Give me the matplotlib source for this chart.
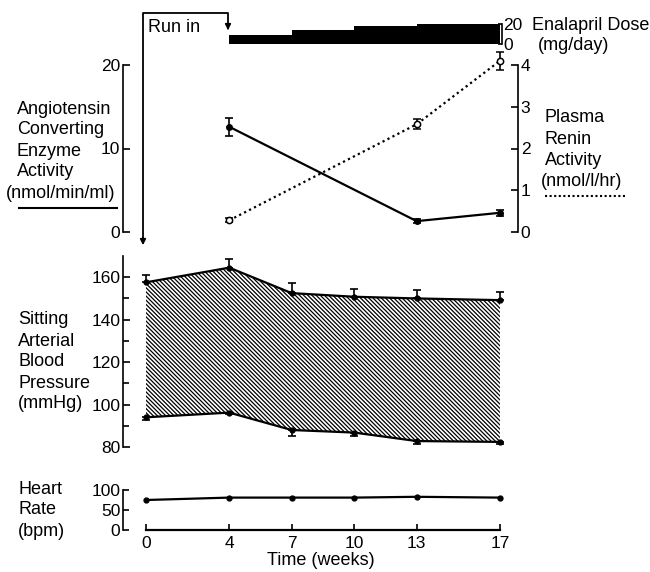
import matplotlib
matplotlib.use('Agg')
import matplotlib.pyplot as plt
from matplotlib.lines import Line2D

plt.rcParams['font.family'] = ['Liberation Sans', 'DejaVu Sans']
plt.rcParams['hatch.linewidth'] = 0.9

# data (weeks)
weeks = [0, 4, 7, 10, 13, 17]
week_ticks = [0, 4, 7, 10, 13, 17]

dose_edges = [4, 7, 10, 13, 17]
dose_mg = [9, 14.5, 18.5, 20]

ace_weeks = [4, 13, 17]
ace = [12.6, 1.3, 2.3]
ace_err = [1.1, 0.2, 0.35]

renin_weeks = [4, 13, 17]
renin = [0.28, 2.58, 4.1]
renin_err = [0.05, 0.12, 0.22]

systolic = [157.6, 164.5, 152.5, 150.8, 150.0, 149.2]
systolic_err = [3.3, 4.3, 4.6, 3.8, 4.2, 4.0]
diastolic = [94.0, 96.2, 88.0, 86.8, 82.8, 82.4]
diastolic_err = [1.5, 0.8, 2.6, 1.5, 1.4, 1.0]

heart_rate = [75, 81, 81, 81, 83, 81]

W, H = 650, 572
XPX0, XPX_WEEK = 146, 20.82


def rect(left, top, right, bottom):
    return [left / W, 1 - bottom / H, (right - left) / W, (bottom - top) / H]


def fx(px):
    return px / W


def fy(py):
    return 1 - py / H


XLIM = ((123 - XPX0) / XPX_WEEK, (518 - XPX0) / XPX_WEEK)
FS = 13
TFS = 12.5
LW = 1.6

fig = plt.figure(figsize=(6.5, 5.72), dpi=100)


def style(ax):
    ax.set_xlim(*XLIM)
    for s in ax.spines.values():
        s.set_visible(False)
    ax.tick_params(direction='in', length=5, width=1.2, labelsize=TFS, pad=2)
    ax.set_xticks([])
    ax.patch.set_alpha(0)


# dose bar
ax_dose = fig.add_axes(rect(123, 24, 518, 44))
style(ax_dose)
ax_dose.set_ylim(0, 20)
ax_dose.fill_between(dose_edges, dose_mg + [dose_mg[-1]], step='post', color='black', lw=0)
ax_dose.spines['right'].set_visible(True)
ax_dose.spines['right'].set_position(('data', 17.1))
ax_dose.spines['right'].set_linewidth(1.2)
ax_dose.yaxis.tick_right()
ax_dose.set_yticks([0, 20])
ax_dose.set_yticklabels(['0', '20'])
ax_dose.tick_params(axis='y', length=3, pad=1)

# ACE and renin
ax_ace = fig.add_axes(rect(123, 65, 518, 232))
style(ax_ace)
ax_ace.set_ylim(0, 20)
ax_ace.spines['left'].set_visible(True)
ax_ace.spines['left'].set_linewidth(1.2)
ax_ace.set_yticks([0, 10, 20])
ax_ace.errorbar(ace_weeks, ace, yerr=ace_err, color='black', lw=LW, marker='o', ms=4,
                capsize=3, elinewidth=1.2, capthick=1.2, clip_on=False)

ax_ren = ax_ace.twinx()
style(ax_ren)
ax_ren.set_ylim(0, 4)
ax_ren.spines['right'].set_visible(True)
ax_ren.spines['right'].set_linewidth(1.2)
ax_ren.set_yticks([0, 1, 2, 3, 4])
ax_ren.errorbar(renin_weeks, renin, yerr=renin_err, color='black', lw=LW, ls=(0, (1, 1.5)),
                marker='o', ms=4.5, mfc='white', mew=1.1, capsize=3, elinewidth=1.2,
                capthick=1.2, clip_on=False)

# blood pressure
ax_bp = fig.add_axes(rect(123, 256, 518, 447))
style(ax_bp)
ax_bp.set_ylim(80, 170)
ax_bp.spines['left'].set_visible(True)
ax_bp.spines['left'].set_linewidth(1.2)
ax_bp.set_yticks([80, 100, 120, 140, 160])
ax_bp.set_yticks([90, 110, 130, 150], minor=True)
ax_bp.tick_params(which='minor', direction='in', length=4, width=1.2)
ax_bp.fill_between(weeks, diastolic, systolic, facecolor='white', edgecolor='black',
                   hatch='\\' * 8, lw=0)
ax_bp.errorbar(weeks, systolic, yerr=[[0] * len(weeks), systolic_err], color='black', lw=LW,
               marker='o', ms=3.5, capsize=3, elinewidth=1.2, capthick=1.2)
ax_bp.errorbar(weeks, diastolic, yerr=[diastolic_err, [0] * len(weeks)], color='black', lw=LW,
               marker='o', ms=3.5, capsize=3, elinewidth=1.2, capthick=1.2)

# heart rate
ax_hr = fig.add_axes(rect(123, 490, 518, 530))
style(ax_hr)
ax_hr.set_ylim(0, 100)
ax_hr.spines['left'].set_visible(True)
ax_hr.spines['left'].set_linewidth(1.2)
ax_hr.spines['bottom'].set_visible(True)
ax_hr.spines['bottom'].set_linewidth(1.6)
ax_hr.spines['bottom'].set_bounds(0, 17)
ax_hr.set_yticks([0, 50, 100])
ax_hr.set_xticks(week_ticks)
ax_hr.tick_params(axis='x', direction='in', length=4, width=1.2, pad=4)
ax_hr.tick_params(axis='y', length=4)
ax_hr.plot(weeks, heart_rate, color='black', lw=LW, marker='o', ms=3.5)
ax_hr.set_xlabel('Time (weeks)', fontsize=FS, labelpad=1)

# text labels


def label(lines, x, y0, step=21, **kw):
    for i, t in enumerate(lines):
        fig.text(fx(x), fy(y0 + i * step), t, fontsize=FS, va='center', ha='left', **kw)


label(['Angiotensin', 'Converting', 'Enzyme', 'Activity'], 17, 109)
label(['(nmol/min/ml)'], 6, 193)
fig.add_artist(Line2D([fx(19), fx(117)], [fy(208), fy(208)], color='black', lw=1.5))

label(['Plasma', 'Renin', 'Activity'], 545, 118)
label(['(nmol/l/hr)'], 541, 181)
fig.add_artist(Line2D([fx(545), fx(627)], [fy(196), fy(196)], color='black', lw=1.5,
                      ls=(0, (1, 1.2))))

label(['Enalapril Dose'], 532, 25)
label(['(mg/day)'], 538, 46)

label(['Sitting', 'Arterial', 'Blood', 'Pressure', '(mmHg)'], 18, 320)
label(['Heart', 'Rate', '(bpm)'], 18, 489)

label(['Run in'], 148, 27)

# run-in bracket
fig.add_artist(Line2D([fx(143), fx(143), fx(228), fx(228)],
                      [fy(240), fy(13), fy(13), fy(28)], color='black', lw=1.3))
ax_ace.annotate('', xy=(143, H - 248), xytext=(143, H - 235), xycoords='figure pixels',
                arrowprops=dict(arrowstyle='-|>', color='black', lw=1.3, mutation_scale=8))
ax_ace.annotate('', xy=(228, H - 33), xytext=(228, H - 24), xycoords='figure pixels',
                arrowprops=dict(arrowstyle='-|>', color='black', lw=1.3, mutation_scale=8))

fig.savefig('out.png', dpi=100)
